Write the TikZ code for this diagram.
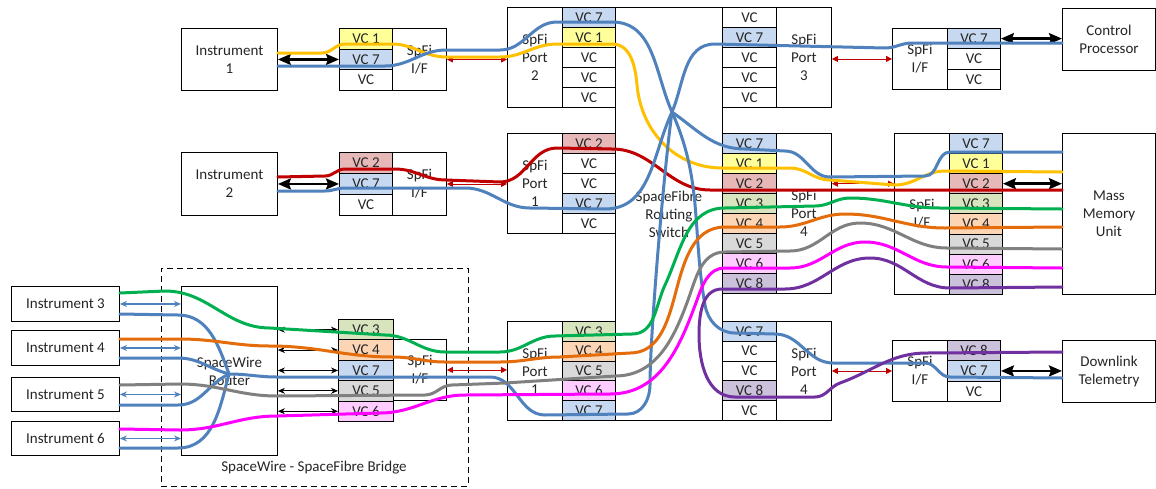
\documentclass[tikz,border=0pt]{standalone}
\usepackage{fontspec}
\setmainfont{Carlito}
\usetikzlibrary{arrows.meta}
\newcommand\lbl{\fontsize{15}{18}\selectfont}
\definecolor{fb}{RGB}{198,217,241}
\definecolor{fy}{RGB}{255,255,153}
\definecolor{fp}{RGB}{230,185,184}
\definecolor{fg}{RGB}{215,228,189}
\definecolor{fo}{RGB}{252,213,181}
\definecolor{fs}{RGB}{217,217,217}
\definecolor{fm}{RGB}{255,204,255}
\definecolor{fv}{RGB}{204,193,218}
\definecolor{cblu}{RGB}{79,129,189}
\definecolor{cyel}{RGB}{255,192,0}
\definecolor{cred}{RGB}{192,0,0}
\definecolor{cgrn}{RGB}{0,176,80}
\definecolor{corg}{RGB}{228,108,10}
\definecolor{cgry}{RGB}{128,128,128}
\definecolor{cmag}{RGB}{255,0,255}
\definecolor{cpur}{RGB}{112,48,160}
\definecolor{txt}{RGB}{38,38,38}
\newcommand\vccol[6]{%
  \foreach \lab/\fc [count=\i from 0] in {#6}{%
    \node[vcbox, fill=\fc, minimum width=#4pt, minimum height=#5pt] (#1\i) at (#2,{#3+\i*#5}) {\lab};
  }%
}
\begin{document}
\begin{tikzpicture}[x=1pt,y=-1pt,
  box/.style={draw, line width=0.9pt, anchor=north west, inner sep=0pt, align=center, font=\lbl, text=txt, fill=white},
  vcbox/.style={draw, line width=0.9pt, anchor=north west, inner sep=0pt, font=\lbl, text=txt},
  barrow/.style={line width=2.6pt, {Stealth[length=13pt,width=11pt,inset=2pt]}-{Stealth[length=13pt,width=11pt,inset=2pt]}},
  rarrow/.style={draw=cred, line width=0.8pt, {Triangle[length=6pt,width=6pt]}-{Triangle[length=6pt,width=6pt]}},
  tarrow/.style={line width=0.8pt, {Stealth[length=7pt,width=6pt]}-{Stealth[length=7pt,width=6pt]}},
  barrowb/.style={draw=cblu, line width=1.2pt, {Stealth[length=7pt,width=6pt]}-{Stealth[length=7pt,width=6pt]}},
  wire/.style={line width=3pt, line cap=round, line join=round},
  scv/.style={out=0,in=180}]
\useasboundingbox (0,0) rectangle (1156,488);

% bridge frame
\node[draw, line width=0.9pt, dash pattern=on 6pt off 4pt, anchor=north west, minimum width=307pt, minimum height=218pt, inner sep=0pt] (bridge) at (161,268) {};
\node[font=\lbl, text=txt] (bridgelbl) at (314,468) {SpaceWire - SpaceFibre Bridge};

% switch
\node[box, minimum width=107pt, minimum height=413pt] (switch) at (615,7) {SpaceFibre\\Routing\\Switch};

% boxes
\node[box, minimum width=96pt, minimum height=62pt] (inst1) at (181,28) {Instrument\\1};
\node[box, minimum width=54pt, minimum height=62pt] (if1) at (392,28) {SpFi\\I/F};
\node[box, minimum width=96pt, minimum height=63pt] (inst2) at (181,152) {Instrument\\2};
\node[box, minimum width=54pt, minimum height=63pt] (if2) at (392,152) {SpFi\\I/F};
\node[box, minimum width=55pt, minimum height=100pt] (port2) at (507,7) {SpFi\\Port\\2};
\node[box, minimum width=55pt, minimum height=100pt] (port3) at (776,7) {SpFi\\Port\\3};
\node[box, minimum width=55pt, minimum height=61pt] (ifc) at (892,28) {SpFi\\I/F};
\node[box, minimum width=93pt, minimum height=62pt] (ctrl) at (1062,8) {Control\\Processor};
\node[box, minimum width=55pt, minimum height=100pt] (port1) at (507,133) {SpFi\\Port\\1};
\node[box, minimum width=55pt, minimum height=160pt] (port4) at (776,133) {SpFi\\Port\\4};
\node[box, minimum width=55pt, minimum height=161pt] (ifm) at (894,133) {SpFi\\I/F};
\node[box, minimum width=93pt, minimum height=161pt] (mmu) at (1062,133) {Mass\\Memory\\Unit};
\node[box, minimum width=55pt, minimum height=99pt] (port1b) at (507,321) {SpFi\\Port\\1};
\node[box, minimum width=55pt, minimum height=99pt] (port4b) at (776,321) {SpFi\\Port\\4};
\node[box, minimum width=55pt, minimum height=61pt] (ifd) at (892,340) {SpFi\\I/F};
\node[box, minimum width=93pt, minimum height=62pt] (dl) at (1062,340) {Downlink\\Telemetry};
\node[box, minimum width=96pt, minimum height=169pt] (router) at (181,286) {SpaceWire\\Router};
\node[box, minimum width=53pt, minimum height=61pt] (ifb) at (393,339) {SpFi\\I/F};
\node[box, minimum width=108pt, minimum height=35pt] (inst3) at (11,286) {Instrument 3};
\node[box, minimum width=108pt, minimum height=35pt] (inst4) at (11,330) {Instrument 4};
\node[box, minimum width=108pt, minimum height=34pt] (inst5) at (11,377) {Instrument 5};
\node[box, minimum width=108pt, minimum height=34pt] (inst6) at (11,421) {Instrument 6};

% VC columns
\vccol{i1v}{339}{28}{53}{20.67}{VC 1/fy, VC 7/fb, VC/white}
\vccol{i2v}{339}{152}{53}{21}{VC 2/fp, VC 7/fb, VC/white}
\vccol{p2v}{562}{7}{53}{20}{VC 7/fb, VC 1/fy, VC/white, VC/white, VC/white}
\vccol{p3v}{722}{7}{54}{20}{VC/white, VC 7/fb, VC/white, VC/white, VC/white}
\vccol{cpv}{947}{28}{53}{20.33}{VC 7/fb, VC/white, VC/white}
\vccol{p1v}{562}{133}{53}{20}{VC 2/fp, VC/white, VC/white, VC 7/fb, VC/white}
\vccol{p4v}{722}{133}{54}{20}{VC 7/fb, VC 1/fy, VC 2/fp, VC 3/fg, VC 4/fo, VC 5/fs, VC 6/fm, VC 8/fv}
\vccol{mmv}{949}{133}{53}{20.1}{VC 7/fb, VC 1/fy, VC 2/fp, VC 3/fg, VC 4/fo, VC 5/fs, VC 6/fm, VC 8/fv}
\vccol{qv}{562}{321}{53}{19.8}{VC 3/fg, VC 4/fo, VC 5/fs, VC 6/fm, VC 7/fb}
\vccol{rv}{722}{321}{54}{19.8}{VC 7/fb, VC/white, VC/white, VC 8/fv, VC/white}
\vccol{dlv}{947}{340}{53}{20.33}{VC 8/fv, VC 7/fb, VC/white}
\vccol{bv}{338}{319}{55}{20.4}{VC 3/fg, VC 4/fo, VC 7/fb, VC 5/fs, VC 6/fm}

% thick black arrows
\draw[barrow] (inst1.east |- i1v1.west) -- (i1v1.west);
\draw[barrow] (inst2.east |- i2v1.west) -- (i2v1.west);
\draw[barrow] (cpv0.east) -- (ctrl.west |- cpv0.east);
\draw[barrow] (mmv2.east) -- (mmu.west |- mmv2.east);
\draw[barrow] (dlv1.east) -- (dl.west |- dlv1.east);

% red link arrows
\draw[rarrow] (if1.east) -- (port2.west |- if1.east);
\draw[rarrow] (if2.east) -- (port1.west |- if2.east);
\draw[rarrow] (port3.east |- ifc.west) -- (ifc.west);
\draw[rarrow] (port4.east |- mmv2.west) -- (ifm.west |- mmv2.west);
\draw[rarrow] (ifb.east) -- (port1b.west |- ifb.east);
\draw[rarrow] (port4b.east |- ifd.west) -- (ifd.west);

% SpaceWire links
\draw[barrowb] (inst3.east) -- (router.west |- inst3.east);
\draw[barrowb] (inst4.east) -- (router.west |- inst4.east);
\draw[barrowb] (inst5.east) -- (router.west |- inst5.east);
\draw[barrowb] (inst6.east) -- (router.west |- inst6.east);
\foreach \k in {0,...,4}{\draw[tarrow] (router.east |- bv\k.west) -- (bv\k.west);}

\coordinate (X) at (672,112);
\coordinate (R) at (229,374);

% virtual channel wires
\draw[wire, cyel] (inst1.east |- 0,53) -- (322,53) to[scv] (345,44) -- (392,44) to[scv] (446,57) -- (500,57) to[scv] (557,44) -- (612,44) to[out=0,in=95] (637,85) to[out=-85,in=180] (722,168) -- (790,168) to[scv] (830,180) -- (895,185) to[scv] (945,171) -- (mmu.west |- 0,172);

\draw[wire, cred] (inst2.east |- 0,177) -- (325,176) to[scv] (345,169) -- (395,169) to[scv] (446,180) -- (500,182) to[scv] (557,148) -- (612,149) to[scv] (710,190) -- (mmu.west |- 0,190);

\draw[wire, cblu] (inst1.east |- 0,66) -- (385,66) to[scv] (446,50) -- (500,50) to[scv] (557,22) -- (612,22) to[out=0,in=114] (X) to[out=-66,in=100] (705,305) to[out=-80,in=180] (735,333) -- (775,334) to[scv] (833,363) -- (925,363) to[scv] (950,377) -- (dl.west |- 0,378);

\draw[wire, cblu] (ctrl.west |- 0,43) -- (912,43) to[out=180,in=0] (885,48) -- (715,44) to[out=180,in=67] (X) to[out=262,in=90,looseness=0.5] (650,385) to[out=-90,in=0] (628,414) -- (545,415) to[out=180,in=0] (490,377) -- (277,377) to[out=180,in=0] (R);

\draw[wire, cblu] (inst2.east |- 0,191) -- (325,191) to[scv] (345,188) -- (465,188) to[scv] (530,208) -- (605,209) to[out=0,in=245] (X);

\draw[wire, cblu] (X) to[out=-35,in=180] (745,149) -- (785,151) to[scv] (830,177) -- (925,176) to[scv] (950,152) -- (mmu.west |- 0,152);

\draw[wire, cblu] (inst3.east |- 0,314) -- (178,315) to[out=0,in=110] (R);
\draw[wire, cblu] (inst4.east |- 0,358) -- (178,358) to[out=0,in=165] (R);
\draw[wire, cblu] (inst5.east |- 0,405) -- (178,405) to[out=0,in=205] (R);
\draw[wire, cblu] (inst6.east |- 0,448) -- (178,448) to[out=0,in=255] (R);

\draw[wire, cgrn] (inst3.east |- 0,293) -- (165,291) to[scv] (270,328) -- (385,335) to[scv] (445,352) -- (500,352) to[scv] (555,336) -- (632,334) to[out=0,in=-115] (665,285) to[out=65,in=180] (725,208) -- (815,206) to[scv] (850,198) to[scv] (940,208) -- (mmu.west |- 0,209);

\draw[wire, corg] (inst4.east |- 0,339) -- (180,339) to[scv] (270,346) to[scv] (393,357) to[scv] (445,362) -- (500,362) to[scv] (560,357) -- (630,353) to[out=0,in=-105] (675,295) to[out=75,in=180] (725,227) -- (780,227) to[scv] (845,214) to[scv] (945,228) -- (mmu.west |- 0,227);

\draw[wire, cgry] (inst5.east |- 0,385) -- (180,384) to[scv] (277,396) -- (425,395) to[scv] (452,385) -- (505,383) -- (615,376) to[out=0,in=-110] (688,300) to[out=70,in=180] (725,252) -- (790,251) to[scv] (860,223) to[scv] (947,248) -- (mmu.west |- 0,249);

\draw[wire, cmag] (inst6.east |- 0,429) -- (180,430) to[scv] (277,416) -- (380,413) to[scv] (465,395) -- (610,394) to[out=0,in=-110] (697,300) to[out=70,in=180] (725,268) -- (790,268) to[scv] (865,242) to[scv] (947,267) -- (mmu.west |- 0,268);

\draw[wire, cpur] (mmu.west |- 0,287) -- (950,288) to[out=180,in=0] (870,258) to[out=180,in=0] (785,289) -- (722,289) to[out=180,in=90] (699,335) to[out=-90,in=180] (735,397) -- (815,397) to[out=0,in=200] (840,383) to[out=20,in=180] (927,353) -- (dl.west |- 0,352);
\end{tikzpicture}
\end{document}
